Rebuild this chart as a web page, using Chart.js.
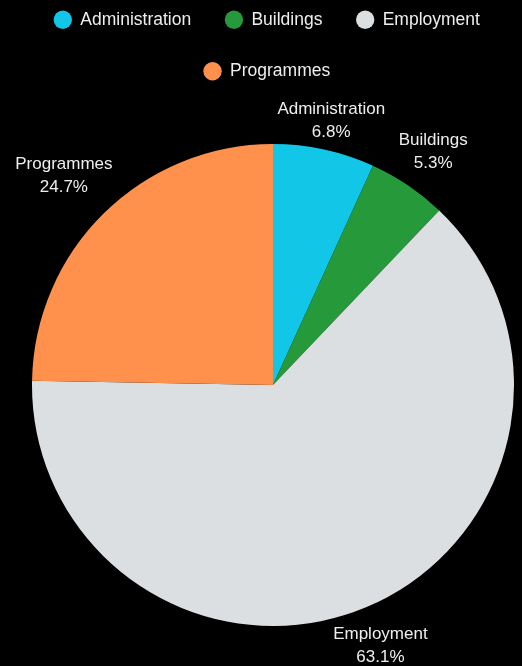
<!DOCTYPE html>
<html>
<head>
<meta charset="utf-8">
<script src="https://cdn.jsdelivr.net/npm/chart.js@4"></script>
<style>
  html, body { margin: 0; padding: 0; background: #000; }
  #wrap { width: 522px; height: 666px; position: relative; }
</style>
</head>
<body>
<div id="wrap"><canvas id="gastosChart"></canvas></div>
<script>
// Datos del gráfico
const categorias = ['Administration', 'Buildings', 'Employment', 'Programmes'];
const porcentajes = [6.8, 5.3, 63.1, 24.7];
const colores = ['#12c6e7', '#26993a', '#dcdfe2', '#ff914d'];

const fuente = '"Liberation Sans", Arial, sans-serif';

// Etiquetas fuera de cada porción (nombre + porcentaje)
const etiquetasExternas = {
    id: 'etiquetasExternas',
    afterDatasetsDraw(chart) {
        const ctx = chart.ctx;
        const meta = chart.getDatasetMeta(0);
        const altoLinea = 23;
        ctx.save();
        ctx.font = '17px ' + fuente;
        ctx.fillStyle = '#eeeeee';
        ctx.textAlign = 'center';
        ctx.textBaseline = 'middle';
        meta.data.forEach((arc, i) => {
            const lineas = [categorias[i], porcentajes[i].toFixed(1) + '%'];
            const medio = (arc.startAngle + arc.endAngle) / 2;
            const dx = Math.cos(medio), dy = Math.sin(medio);
            // distancia al centro según la inclinación de la porción
            const d = arc.outerRadius - 31 + 63 / Math.max(Math.abs(dy), 0.5);
            const cx = arc.x + dx * d;
            const cy = arc.y + dy * d + 4;
            ctx.fillText(lineas[0], cx, cy - altoLinea / 2);
            ctx.fillText(lineas[1], cx, cy + altoLinea / 2);
        });
        ctx.restore();
    }
};

// Ajustes de la leyenda: un poco a la izquierda y más espacio debajo
const ajustarLeyenda = {
    id: 'ajustarLeyenda',
    afterInit(chart) {
        const fitOriginal = chart.legend.fit;
        chart.legend.fit = function () {
            fitOriginal.call(this);
            this.height += 14;
        };
    },
    afterLayout(chart) {
        chart.legend.left -= 6;
        chart.legend.right -= 6;
    }
};

const ctx = document.getElementById('gastosChart').getContext('2d');
new Chart(ctx, {
    type: 'pie',
    data: {
        labels: categorias,
        datasets: [{
            data: porcentajes,
            backgroundColor: colores,
            borderWidth: 0,
            radius: 241
        }]
    },
    options: {
        responsive: true,
        maintainAspectRatio: false,
        animation: false,
        layout: {
            padding: { top: -23, bottom: 0, left: 24, right: 0 }
        },
        plugins: {
            legend: {
                position: 'top',
                labels: {
                    usePointStyle: true,
                    pointStyle: 'circle',
                    boxHeight: 13,
                    padding: 34,
                    color: '#eeeeee',
                    font: { size: 17.5, family: fuente }
                }
            },
            tooltip: { enabled: false }
        }
    },
    plugins: [etiquetasExternas, ajustarLeyenda]
});
</script>
</body>
</html>
